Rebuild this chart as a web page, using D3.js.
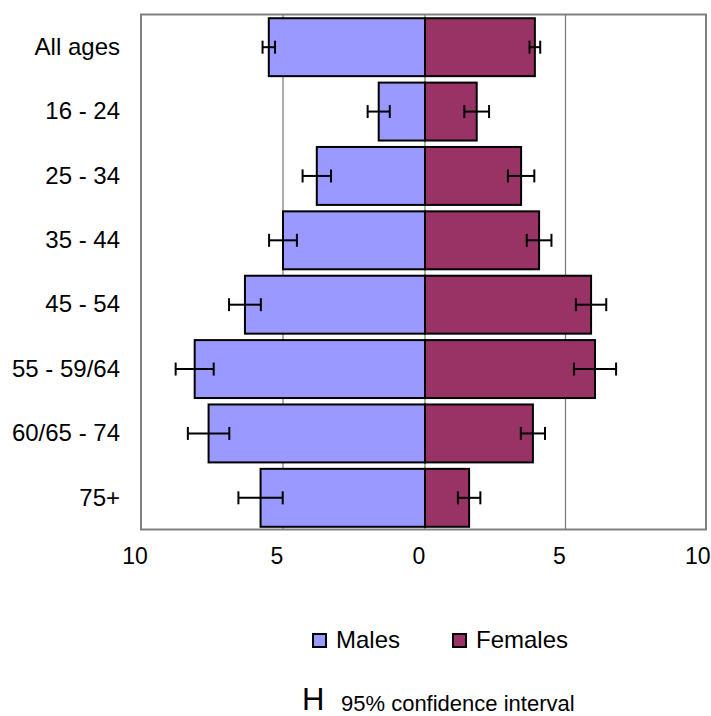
<!DOCTYPE html>
<html>
<head>
<meta charset="utf-8">
<script src="https://cdn.jsdelivr.net/npm/d3@7/dist/d3.min.js"></script>
<style>
  html, body { margin: 0; padding: 0; background: #fff; }
  svg { display: block; }
  text { font-family: "Liberation Sans", Arial, sans-serif; fill: #000; }
</style>
</head>
<body>
<script>
// Age groups, top to bottom
const categories = ["All ages", "16 - 24", "25 - 34", "35 - 44", "45 - 54", "55 - 59/64", "60/65 - 74", "75+"];
// Percentages by sex, with half-width of the 95% confidence interval
const males     = [5.50, 1.63, 3.81, 5.00, 6.34, 8.11, 7.62, 5.79];
const malesCI   = [0.22, 0.39, 0.50, 0.49, 0.56, 0.67, 0.73, 0.78];
const females   = [3.91, 1.84, 3.42, 4.06, 5.91, 6.05, 3.84, 1.57];
const femalesCI = [0.19, 0.44, 0.47, 0.44, 0.54, 0.75, 0.43, 0.40];
// Axis ticks (males drawn to the left of zero)
const tickValues = [-10, -5, 0, 5, 10];
const tickLabels = ["10", "5", "0", "5", "10"];
const gridValues = [-5, 0, 5];
const seriesNames = ["Males", "Females"];
const seriesColors = ["#9999FF", "#993366"];

const W = 711, H = 716;
const plot = { left: 141, right: 706, top: 14.5, bottom: 529.5 };
const FONT = '"Liberation Sans", Arial, sans-serif';

const svg = d3.select("body").append("svg").attr("width", W).attr("height", H);

const x = d3.scaleLinear().domain([-10, 0, 10]).range([plot.left, 425, plot.right]);
const y = d3.scaleBand().domain(categories).range([15, 530]).paddingInner(0.1).paddingOuter(0.05);

// gridlines
svg.append("g").selectAll("line").data(gridValues).join("line")
  .attr("x1", d => x(d)).attr("x2", d => x(d))
  .attr("y1", plot.top).attr("y2", plot.bottom)
  .attr("stroke", "#808080").attr("stroke-width", 1.3);

const rows = categories.map((c, i) => ({ c, m: males[i], mci: malesCI[i], f: females[i], fci: femalesCI[i] }));

// bars
const bars = svg.append("g");
bars.selectAll("rect.m").data(rows).join("rect").attr("class", "m")
  .attr("x", d => x(-d.m)).attr("width", d => x(0) - x(-d.m))
  .attr("y", d => y(d.c)).attr("height", y.bandwidth())
  .attr("fill", seriesColors[0]).attr("stroke", "#000").attr("stroke-width", 2);
bars.selectAll("rect.f").data(rows).join("rect").attr("class", "f")
  .attr("x", x(0)).attr("width", d => x(d.f) - x(0))
  .attr("y", d => y(d.c)).attr("height", y.bandwidth())
  .attr("fill", seriesColors[1]).attr("stroke", "#000").attr("stroke-width", 2);

// confidence interval whiskers
function whisker(g, lo, hi, cy) {
  const cap = 6.5;
  g.append("line").attr("x1", lo).attr("x2", hi).attr("y1", cy).attr("y2", cy);
  g.append("line").attr("x1", lo).attr("x2", lo).attr("y1", cy - cap).attr("y2", cy + cap);
  g.append("line").attr("x1", hi).attr("x2", hi).attr("y1", cy - cap).attr("y2", cy + cap);
}
const eb = svg.append("g").attr("stroke", "#000").attr("stroke-width", 2);
rows.forEach(d => {
  const cy = y(d.c) + y.bandwidth() / 2;
  whisker(eb, x(-(d.m + d.mci)), x(-(d.m - d.mci)), cy);
  whisker(eb, x(d.f - d.fci), x(d.f + d.fci), cy);
});

// plot frame
svg.append("rect")
  .attr("x", plot.left).attr("y", plot.top)
  .attr("width", plot.right - plot.left).attr("height", plot.bottom - plot.top)
  .attr("fill", "none").attr("stroke", "#808080").attr("stroke-width", 2);

// x axis labels (sit slightly left of their gridline, kept inside the page)
const xAxis = svg.append("g").attr("transform", `translate(0,${plot.bottom - 0.5})`)
  .call(d3.axisBottom(x).tickValues(tickValues)
    .tickFormat((d, i) => tickLabels[i]).tickSize(0).tickPadding(19));
xAxis.select(".domain").remove();
xAxis.selectAll("text").attr("font-size", 23).style("font-family", FONT)
  .attr("dx", function (d) {
    const half = this.getComputedTextLength() / 2;
    const cx = Math.min(x(d) - 6.5, W - 1 - half);
    return cx - x(d);
  });

// y axis labels
const yAxis = svg.append("g").attr("transform", `translate(${plot.left},0)`)
  .call(d3.axisLeft(y).tickSize(0).tickPadding(21));
yAxis.select(".domain").remove();
yAxis.selectAll("text").attr("font-size", 24).style("font-family", FONT);

// legend
const legend = svg.append("g");
const legendX = [313, 453];
seriesNames.forEach((name, i) => {
  legend.append("rect").attr("x", legendX[i]).attr("y", 634).attr("width", 13).attr("height", 13)
    .attr("fill", seriesColors[i]).attr("stroke", "#000").attr("stroke-width", 2);
  legend.append("text").attr("x", legendX[i] + 23).attr("y", 648)
    .attr("font-size", 24).text(name);
});

// confidence interval key
svg.append("text").attr("x", 302).attr("y", 710).attr("font-size", 31).text("H");
svg.append("text").attr("x", 341).attr("y", 711).attr("font-size", 22).text("95% confidence interval");
</script>
</body>
</html>
